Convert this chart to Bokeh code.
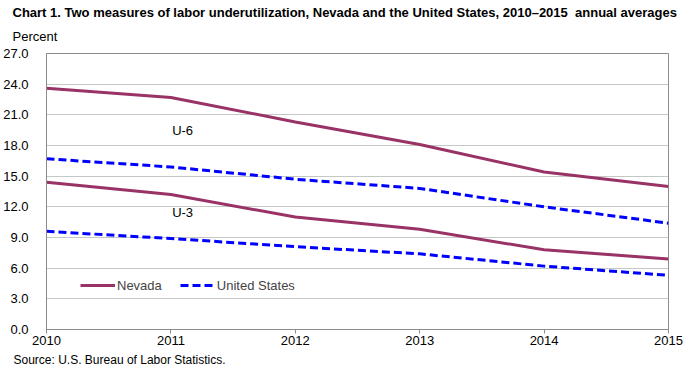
from bokeh.plotting import figure
from bokeh.models import Label, Legend, LegendItem, FixedTicker, NumeralTickFormatter, Range1d, Title
from bokeh.embed import file_html
from bokeh.resources import INLINE

years = [2010, 2011, 2012, 2013, 2014, 2015]
nevada_u6 = [23.6, 22.7, 20.3, 18.1, 15.4, 14.0]
us_u6 = [16.7, 15.9, 14.7, 13.8, 12.0, 10.4]
nevada_u3 = [14.4, 13.2, 11.0, 9.8, 7.8, 6.9]
us_u3 = [9.6, 8.9, 8.1, 7.4, 6.2, 5.3]
y_ticks = [0, 3, 6, 9, 12, 15, 18, 21, 24, 27]

FONT = "Liberation Sans"
NV_COLOR = "#993366"
US_COLOR = "#0000FF"

p = figure(frame_width=622, frame_height=276, output_backend="svg", toolbar_location=None,
           x_range=Range1d(2010, 2015), y_range=Range1d(0, 27),
           min_border_left=34, min_border_right=15, min_border_top=53, min_border_bottom=41)
p.background_fill_color = "white"
p.border_fill_color = "white"
p.outline_line_color = "#8C8C8C"

nv6 = p.line(years, nevada_u6, line_color=NV_COLOR, line_width=3)
p.line(years, nevada_u3, line_color=NV_COLOR, line_width=3)
us6 = p.line(years, us_u6, line_color=US_COLOR, line_width=3, line_dash="8 4")
p.line(years, us_u3, line_color=US_COLOR, line_width=3, line_dash="8 4")

p.yaxis.ticker = FixedTicker(ticks=y_ticks)
p.yaxis.formatter = NumeralTickFormatter(format="0.0")
p.xaxis.ticker = FixedTicker(ticks=years)
p.xgrid.visible = False
p.ygrid.grid_line_color = "#C4C8C4"
p.ygrid.grid_line_width = 1

for ax in (p.xaxis, p.yaxis):
    ax.axis_line_color = "#8C8C8C"
    ax.major_label_text_font = FONT
    ax.major_label_text_font_size = "13px"
    ax.major_label_text_color = "black"
    ax.minor_tick_line_color = None
p.yaxis.major_tick_line_color = None
p.yaxis.major_label_standoff = 12
p.xaxis.major_tick_line_color = "#8C8C8C"
p.xaxis.major_tick_in = 0
p.xaxis.major_tick_out = 4
p.xaxis.major_label_standoff = 2

legend = Legend(items=[LegendItem(label="Nevada", renderers=[nv6]),
                       LegendItem(label="United States", renderers=[us6])],
                orientation="horizontal", location=(34, 34),
                background_fill_alpha=0, border_line_color=None,
                label_text_font=FONT, label_text_font_size="13px",
                glyph_width=35, spacing=18, padding=0, margin=0, label_standoff=2)
p.add_layout(legend)

for txt, yv in (("U-6", 19.5), ("U-3", 11.45)):
    p.add_layout(Label(x=2011.01, y=yv, text=txt, text_font=FONT, text_font_size="13px",
                       text_baseline="middle", text_color="black"))

p.add_layout(Title(text="Percent", align="left", offset=-34, standoff=15, vertical_align="top",
                   text_font=FONT, text_font_size="13px", text_font_style="normal",
                   text_color="black"), "above")
p.add_layout(Title(text="Chart 1. Two measures of labor underutilization, Nevada and the United States, 2010\u20132015\u00a0 annual averages",
                   align="left", offset=-34, standoff=0, vertical_align="top",
                   text_font=FONT, text_font_size="13px", text_font_style="bold",
                   text_color="black"), "above")
p.add_layout(Title(text="Source: U.S. Bureau of Labor Statistics.", align="left", offset=-33, standoff=6,
                   text_font=FONT, text_font_size="12px", text_font_style="normal",
                   text_color="black"), "below")

open("out.html", "w").write(file_html(p, INLINE))
